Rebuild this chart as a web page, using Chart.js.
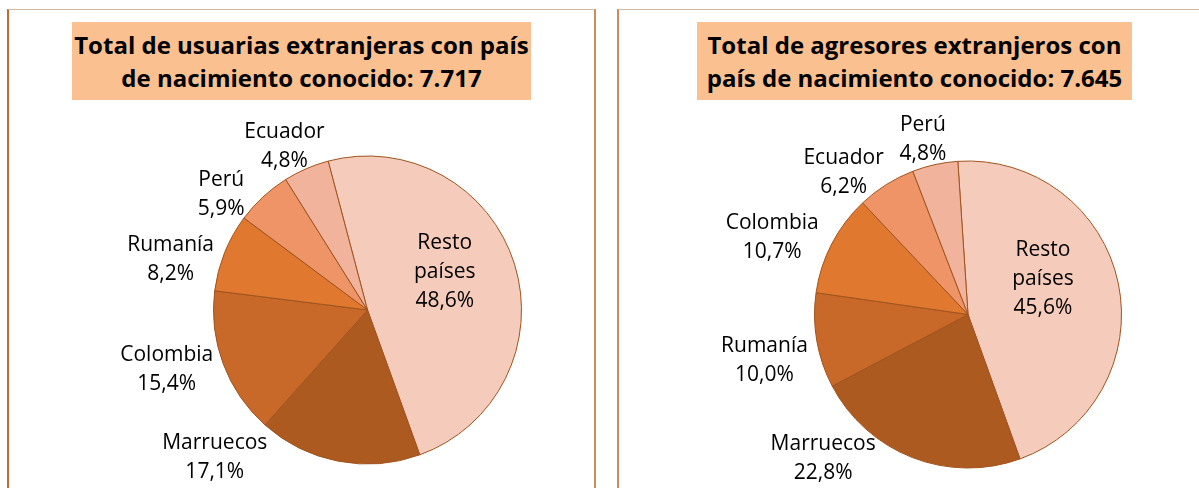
<!DOCTYPE html>
<html>
<head>
<meta charset="utf-8">
<script src="https://cdn.jsdelivr.net/npm/chart.js@4.4.1/dist/chart.umd.min.js"></script>
<style>
  body { margin: 0; width: 1199px; height: 488px; background: #fff; overflow: hidden; position: relative; font-family: "Open Sans", sans-serif; }
  .panel { position: absolute; top: 9px; height: 479px; box-sizing: border-box; border-top: 1px solid #d8b9a0; }
  #panelLeft { left: 7px; width: 589px; border-left: 2px solid #bd6d30; border-right: 2px solid #c98d60; }
  #panelRight { left: 617px; width: 582px; border-left: 2px solid #c98d60; }
  .title { position: absolute; top: 22px; height: 78px; background: #fac090; color: #000;
           font: bold 24px "Open Sans", sans-serif; line-height: 33px; text-align: center;
           display: flex; align-items: center; justify-content: center; }
  #titleLeft { left: 72px; width: 459px; }
  #titleRight { left: 697px; width: 435px; }
  .box { position: absolute; top: 0; width: 599px; height: 488px; }
</style>
</head>
<body>
<div class="panel" id="panelLeft"></div>
<div class="panel" id="panelRight"></div>
<div class="box" style="left:0"><canvas id="chartLeft" width="599" height="488"></canvas></div>
<div class="box" style="left:600px"><canvas id="chartRight" width="599" height="488"></canvas></div>
<div class="title" id="titleLeft"></div>
<div class="title" id="titleRight"></div>
<script>
// usuarias
const titleLeft = ['Total de usuarias extranjeras con país', 'de nacimiento conocido: 7.717'];
const categoriesLeft = ['Resto países', 'Marruecos', 'Colombia', 'Rumanía', 'Perú', 'Ecuador'];
const valuesLeft = [48.6, 17.1, 15.4, 8.2, 5.9, 4.8];

// agresores
const titleRight = ['Total de agresores extranjeros con', 'país de nacimiento conocido: 7.645'];
const categoriesRight = ['Resto países', 'Marruecos', 'Rumanía', 'Colombia', 'Ecuador', 'Perú'];
const valuesRight = [45.6, 22.8, 10.0, 10.7, 6.2, 4.8];

const sliceColors = ['#f5cbbb', '#ad5a21', '#c8692a', '#e0782f', '#ee9467', '#f1b39b'];

document.getElementById('titleLeft').innerHTML = titleLeft.join('<br>');
document.getElementById('titleRight').innerHTML = titleRight.join('<br>');

// draws "name / xx,x%" next to each slice, like Excel best fit
const sliceLabels = {
  id: 'sliceLabels',
  afterDatasetsDraw(chart, args, opts) {
    const ctx = chart.ctx;
    const meta = chart.getDatasetMeta(0);
    const values = chart.data.datasets[0].data;
    ctx.save();
    ctx.font = '21px "Open Sans", sans-serif';
    ctx.fillStyle = '#000';
    ctx.textAlign = 'center';
    ctx.textBaseline = 'middle';
    meta.data.forEach((arc, i) => {
      const a = (arc.startAngle + arc.endAngle) / 2 + opts.shift[i] * Math.PI / 180;
      const r = arc.outerRadius * opts.dist[i];
      const x = arc.x + Math.cos(a) * r;
      const y = arc.y + Math.sin(a) * r;
      const name = chart.data.labels[i];
      const lines = opts.dist[i] < 1 ? name.split(' ') : [name];
      lines.push(values[i].toFixed(1).replace('.', ',') + '%');
      const top = y - (lines.length - 1) * opts.lineHeight / 2;
      lines.forEach((t, j) => ctx.fillText(t, x, top + j * opts.lineHeight));
    });
    ctx.restore();
  }
};

function makePie(id, labels, values, rotation, padding, shift, dist) {
  return new Chart(document.getElementById(id), {
    type: 'pie',
    data: {
      labels: labels,
      datasets: [{
        data: values,
        backgroundColor: sliceColors,
        borderColor: '#a0531e',
        borderWidth: 1
      }]
    },
    options: {
      responsive: false,
      animation: false,
      rotation: rotation,
      layout: { padding: padding },
      plugins: {
        legend: { display: false },
        tooltip: { enabled: false },
        sliceLabels: { shift: shift, dist: dist, lineHeight: 29 }
      }
    },
    plugins: [sliceLabels]
  });
}

makePie('chartLeft', categoriesLeft, valuesLeft, -14.8,
  { left: 213, right: 77, top: 155, bottom: 23 },
  [-9, 35, 4, -7.5, -9, -3.5],
  [0.56, 1.38, 1.36, 1.32, 1.21, 1.19]);

makePie('chartRight', categoriesRight, valuesRight, -3.8,
  { left: 214, right: 77, top: 160, bottom: 19 },
  [-13.5, 24, -3, -6, -9, -2],
  [0.54, 1.33, 1.36, 1.37, 1.23, 1.18]);
</script>
</body>
</html>
